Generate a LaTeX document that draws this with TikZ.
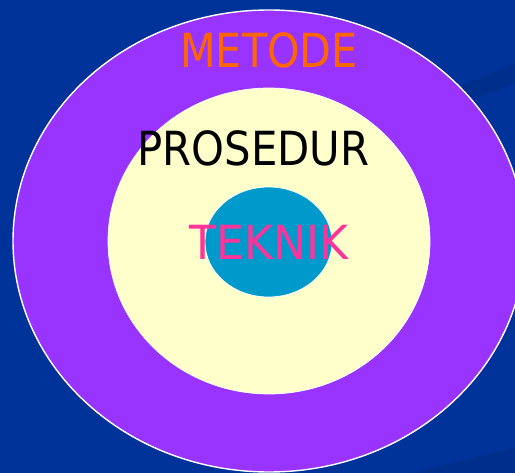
\documentclass[tikz,border=0pt]{standalone}
\usepackage{fontspec}
\usetikzlibrary{shapes.geometric}
\newfontfamily\lblfont{DejaVu Sans}
\definecolor{bgblue}{HTML}{003399}
\definecolor{bgdark}{HTML}{002E8C}
\definecolor{ringpurple}{HTML}{9933FF}
\definecolor{cream}{HTML}{FFFFCC}
\definecolor{coreblue}{HTML}{0099CC}
\definecolor{metorange}{HTML}{FF6600}
\definecolor{tekpink}{HTML}{FF3399}
\tikzset{
  ring/.style={ellipse, inner sep=0pt, draw=white},
  word/.style={inner sep=0pt, anchor=center, font=\lblfont\fontsize{47}{47}\selectfont}
}
\begin{document}
\begin{tikzpicture}[x=1pt, y=-1pt]
\useasboundingbox (0,0) rectangle (515,473);
\clip (0,0) rectangle (515,473);
\fill[bgblue] (0,0) rectangle (515,473);
\fill[bgdark] (300,153) -- (515,63) -- (515,83) -- (300,173) -- cycle;
\fill[bgdark] (300,500) -- (515,448) -- (515,480) -- cycle;
\node[ring, fill=ringpurple, line width=1.4pt, minimum width=512pt, minimum height=462pt] (metode) at (269,241) {};
\node[ring, fill=cream, line width=0.7pt, minimum width=322pt, minimum height=306pt] (prosedur) at (269,241) {};
\node[ring, fill=coreblue, line width=0.7pt, minimum width=127pt, minimum height=110pt] (teknik) at (268.5,242) {};
\node[word, text=metorange] (tmetode) at (269,50) {\scalebox{0.88}[1]{METODE}};
\node[word, text=black] (tprosedur) at (253.5,148) {\scalebox{0.89}[1]{PROSEDUR}};
\node[word, text=tekpink] (tteknik) at (269,242.5) {\scalebox{0.94}[1]{TEKNIK}};
\end{tikzpicture}
\end{document}
